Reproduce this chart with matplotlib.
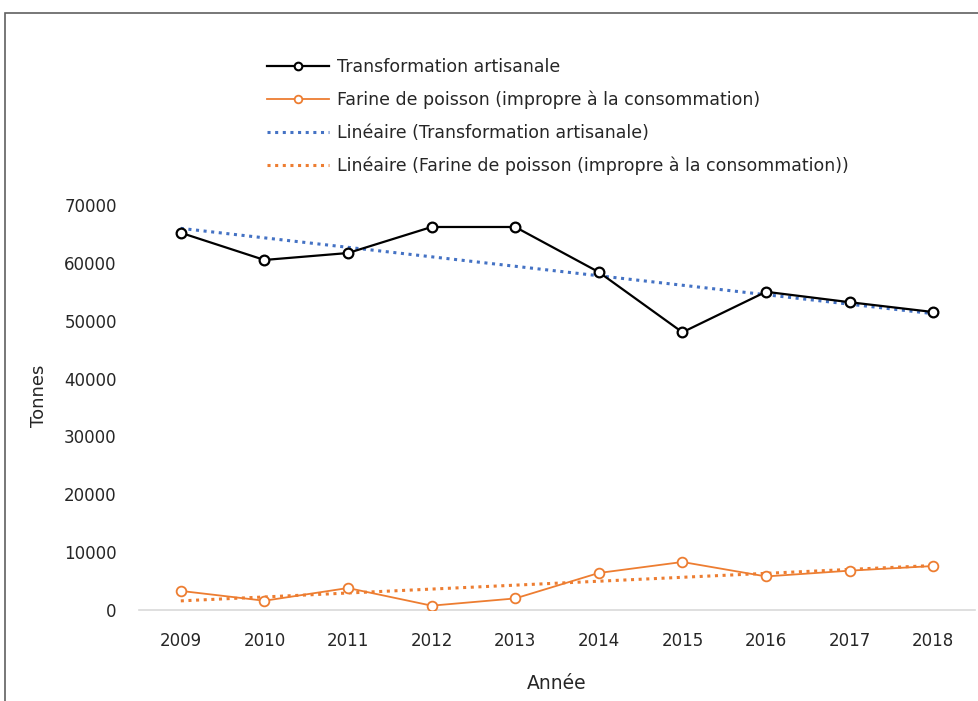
import numpy as np
import matplotlib
matplotlib.use("Agg")
import matplotlib.pyplot as plt
from matplotlib.lines import Line2D
from matplotlib.patches import Rectangle

years = ["2009", "2010", "2011", "2012", "2013", "2014", "2015", "2016", "2017", "2018"]
artisanale = [65200, 60500, 61700, 66200, 66200, 58400, 48000, 55000, 53200, 51500]
farine = [3300, 1600, 3800, 750, 2000, 6400, 8300, 5800, 6800, 7600]
yticks = [0, 10000, 20000, 30000, 40000, 50000, 60000, 70000]

labels = ["Transformation artisanale",
          "Farine de poisson (impropre à la consommation)",
          "Linéaire (Transformation artisanale)",
          "Linéaire (Farine de poisson (impropre à la consommation))"]

BLACK = "#000000"
ORANGE = "#ED7D31"
BLUE = "#4472C4"
TXT = "#262626"

plt.rcParams['font.family'] = ['DejaVu Sans']

fig = plt.figure(figsize=(9.79, 7.01), dpi=100)
ax = fig.add_axes([139/979, 1-610/701, (975-139)/979, (610-205)/701])

x = np.arange(len(years))

# trend lines (least-squares fit, as Excel's linear trendline)
pa = np.polyfit(x, artisanale, 1)
pf = np.polyfit(x, farine, 1)
ax.plot(x, np.polyval(pa, x), linestyle=(0, (1, 1.5)), color=BLUE, lw=2.2, zorder=2)
ax.plot(x, np.polyval(pf, x), linestyle=(0, (1, 1.5)), color=ORANGE, lw=2.2, zorder=2)

ax.plot(x, artisanale, color=BLACK, lw=1.6, marker='o', ms=7, mfc='white',
        mec=BLACK, mew=1.6, zorder=3)
ax.plot(x, farine, color=ORANGE, lw=1.3, marker='o', ms=7, mfc='white',
        mec=ORANGE, mew=1.3, zorder=3)

ax.set_xlim(-0.5, len(years) - 0.5)
ax.set_ylim(0, 70000)
ax.set_xticks(x)
ax.set_xticklabels(years)
ax.set_yticks(yticks)
ax.set_yticklabels([str(v) for v in yticks])
ax.tick_params(axis='both', length=0, labelsize=12, colors=TXT)
ax.tick_params(axis='x', pad=16)
ax.tick_params(axis='y', pad=16)

for s in ['top', 'right', 'left']:
    ax.spines[s].set_visible(False)
ax.spines['bottom'].set_color('#D9D9D9')
ax.spines['bottom'].set_linewidth(1.2)

ax.set_xlabel("Année", fontsize=13.5, color=TXT, labelpad=17)
ax.set_ylabel("Tonnes", fontsize=13, color=TXT)
ax.yaxis.set_label_coords(-0.109, 0.53)

handles = [
    Line2D([], [], color=BLACK, lw=1.6, marker='o', ms=5.5, mfc='white', mec=BLACK, mew=1.5),
    Line2D([], [], color=ORANGE, lw=1.3, marker='o', ms=5.5, mfc='white', mec=ORANGE, mew=1.3),
    Line2D([], [], color=BLUE, lw=2.2, linestyle=(0, (1, 1.5))),
    Line2D([], [], color=ORANGE, lw=2.2, linestyle=(0, (1, 1.5))),
]
fig.legend(handles, labels, loc='upper left', bbox_to_anchor=(251/979, 1-42/701),
           frameon=False, fontsize=12.5, handlelength=3.6, handletextpad=0.45,
           labelspacing=0.86, labelcolor=TXT)

# outer chart frame
fig.patches.append(Rectangle((5/979, -0.1), 1.2, (1-13/701) + 0.1,
                             transform=fig.transFigure, fill=False,
                             edgecolor='#606060', lw=1.2))

fig.savefig("out.png", dpi=100)
